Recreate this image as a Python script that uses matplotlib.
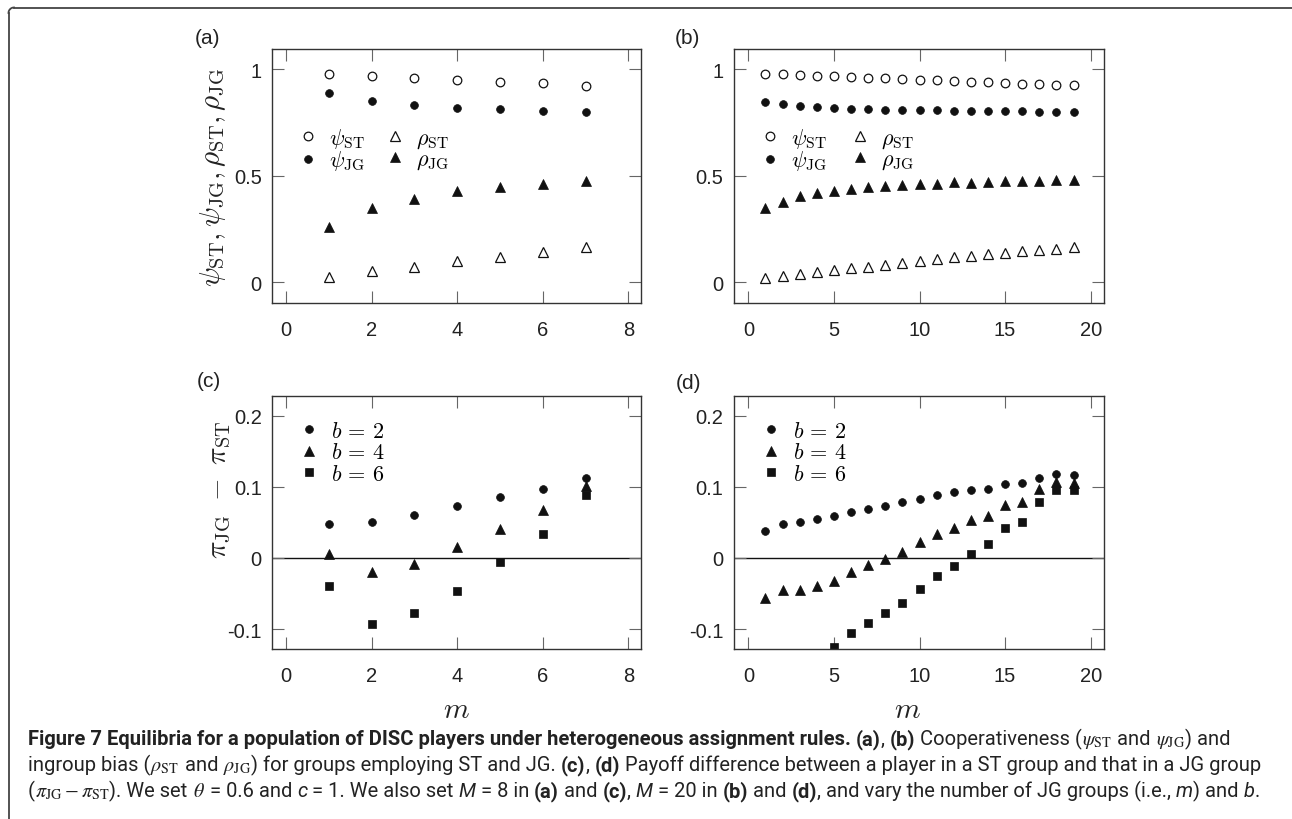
import os
import numpy as np
import matplotlib
matplotlib.use("Agg")
import matplotlib.pyplot as plt
import matplotlib.font_manager as fm
from matplotlib.font_manager import FontProperties
from matplotlib.lines import Line2D

# ---------------- data ----------------
m_a = [1, 2, 3, 4, 5, 6, 7]
m_b = list(range(1, 20))

psi_st_a = [0.977, 0.969, 0.958, 0.950, 0.941, 0.933, 0.922]
psi_jg_a = [0.888, 0.848, 0.830, 0.819, 0.811, 0.805, 0.800]
rho_st_a = [0.027, 0.052, 0.073, 0.100, 0.120, 0.144, 0.164]
rho_jg_a = [0.258, 0.348, 0.392, 0.427, 0.447, 0.462, 0.475]

psi_st_b = [0.978, 0.975, 0.972, 0.969, 0.966, 0.963, 0.959, 0.956, 0.953, 0.950,
            0.947, 0.944, 0.941, 0.938, 0.934, 0.931, 0.930, 0.927, 0.925]
psi_jg_b = [0.845, 0.834, 0.827, 0.820, 0.817, 0.814, 0.811, 0.809, 0.808, 0.808,
            0.806, 0.805, 0.803, 0.803, 0.802, 0.802, 0.800, 0.798, 0.797]
rho_st_b = [0.022, 0.028, 0.039, 0.047, 0.056, 0.066, 0.073, 0.083, 0.092, 0.100,
            0.108, 0.117, 0.123, 0.131, 0.139, 0.145, 0.152, 0.158, 0.167]
rho_jg_b = [0.347, 0.378, 0.403, 0.420, 0.428, 0.438, 0.447, 0.450, 0.458, 0.459,
            0.461, 0.469, 0.467, 0.470, 0.473, 0.473, 0.475, 0.478, 0.480]

pay_b2_c = [0.047, 0.050, 0.060, 0.073, 0.085, 0.097, 0.112]
pay_b4_c = [0.005, -0.020, -0.008, 0.015, 0.041, 0.067, 0.101]
pay_b6_c = [-0.039, -0.093, -0.078, -0.047, -0.006, 0.034, 0.088]

pay_b2_d = [0.038, 0.047, 0.050, 0.055, 0.059, 0.065, 0.069, 0.073, 0.078, 0.083,
            0.088, 0.092, 0.096, 0.097, 0.104, 0.105, 0.113, 0.118, 0.117]
pay_b4_d = [-0.056, -0.045, -0.045, -0.040, -0.033, -0.020, -0.010, -0.001, 0.009, 0.022,
            0.033, 0.042, 0.053, 0.059, 0.075, 0.078, 0.097, 0.107, 0.106]
pay_b6_d = [np.nan, np.nan, np.nan, np.nan, -0.125, -0.106, -0.091, -0.078, -0.063, -0.043,
            -0.025, -0.012, 0.006, 0.019, 0.042, 0.051, 0.078, 0.095, 0.095]

xticks_a = [0, 2, 4, 6, 8]
xticks_b = [0, 5, 10, 15, 20]
yticks_top = [0, 0.5, 1]
yticklabels_top = ["0", "0.5", "1"]
yticks_bot = [-0.1, 0, 0.1, 0.2]
yticklabels_bot = ["-0.1", "0", "0.1", "0.2"]

leg_top = [r"$\psi_{\rm ST}$", r"$\psi_{\rm JG}$", r"$\rho_{\rm ST}$", r"$\rho_{\rm JG}$"]
leg_bot = [r"$b\,=\,2$", r"$b\,=\,4$", r"$b\,=\,6$"]
panel_labels = ["(a)", "(b)", "(c)", "(d)"]

# ---------------- figure ----------------
W, H = 1292, 820
fig = plt.figure(figsize=(W / 100, H / 100), dpi=100)
fig.patch.set_facecolor("white")

SANS = ["Liberation Sans", "DejaVu Sans"]
INK = "#111111"
TXT = "#222222"


def rect(l, r, t, b):
    return [l / W, 1 - b / H, (r - l) / W, (b - t) / H]


def fx(px):
    return px / W


def fy(py):
    return 1 - py / H


def style_axes(ax, xticks, yticks, yticklabels, xlim, ylim):
    ax.set_xlim(*xlim)
    ax.set_ylim(*ylim)
    ax.set_xticks(xticks)
    ax.set_xticklabels([str(v) for v in xticks])
    ax.set_yticks(yticks)
    ax.set_yticklabels(yticklabels)
    for sp in ax.spines.values():
        sp.set_color("#333333")
        sp.set_linewidth(1.0)
    ax.tick_params(axis="both", direction="in", length=8.6, width=0.8,
                   color="#666666", top=True, right=True,
                   labelsize=14.5, labelcolor=TXT)
    ax.tick_params(axis="x", pad=12.5)
    ax.tick_params(axis="y", pad=7.6)
    for lab in ax.get_xticklabels() + ax.get_yticklabels():
        lab.set_fontfamily(SANS)


ms_c = 5.6
ms_o = 6.2
ms_t = 7.4
ms_s = 6.0

LEG_FS = 16
HL = 0.85

# ----- (a) and (b)
for (l, r), xs, pst, pjg, rst, rjg, xt, xl, mx, cs in [
        ((272.3, 640.7), m_a, psi_st_a, psi_jg_a, rho_st_a, rho_jg_a, xticks_a, (-0.32, 8.29), 308.3, 0.95),
        ((734.0, 1104.0), m_b, psi_st_b, psi_jg_b, rho_st_b, rho_jg_b, xticks_b, (-0.84, 20.78), 770.0, 1.1)]:
    ax = fig.add_axes(rect(l, r, 50, 304))
    h1, = ax.plot(xs, pst, ls="none", marker="o", ms=ms_o, mfc="white", mec=INK, mew=0.9)
    h2, = ax.plot(xs, pjg, ls="none", marker="o", ms=ms_c, mfc=INK, mec=INK, mew=0.5)
    h3, = ax.plot(xs, rst, ls="none", marker="^", ms=ms_t, mfc="white", mec=INK, mew=0.9)
    h4, = ax.plot(xs, rjg, ls="none", marker="^", ms=ms_t, mfc=INK, mec=INK, mew=0.5)
    style_axes(ax, xt, yticks_top, yticklabels_top, xl, (-0.097, 1.094))
    half = HL * LEG_FS * 100 / 72 / 2
    ax.legend([h1, h2, h3, h4], leg_top, ncol=2, frameon=False,
              loc="upper left",
              bbox_to_anchor=((mx - half - l) / (r - l), (304 - 127.0) / 254.0),
              borderpad=0, borderaxespad=0,
              handlelength=HL, handletextpad=0.5, columnspacing=cs,
              labelspacing=-0.07, prop={"math_fontfamily": "cm", "size": LEG_FS})

# ----- (c) and (d)
for (l, r), xs, p2, p4, p6, xt, xl, mx in [
        ((272.3, 640.7), m_a, pay_b2_c, pay_b4_c, pay_b6_c, xticks_a, (-0.32, 8.29), 309.0),
        ((734.0, 1104.0), m_b, pay_b2_d, pay_b4_d, pay_b6_d, xticks_b, (-0.84, 20.78), 771.0)]:
    ax = fig.add_axes(rect(l, r, 396.7, 650))
    ax.axhline(0, color=INK, lw=1.0, zorder=1)
    g1, = ax.plot(xs, p2, ls="none", marker="o", ms=ms_c, mfc=INK, mec=INK, mew=0.5)
    g2, = ax.plot(xs, p4, ls="none", marker="^", ms=ms_t, mfc=INK, mec=INK, mew=0.5)
    g3, = ax.plot(xs, p6, ls="none", marker="s", ms=ms_s, mfc=INK, mec=INK, mew=0.5)
    style_axes(ax, xt, yticks_bot, yticklabels_bot, xl, (-0.128, 0.228))
    half = HL * LEG_FS * 100 / 72 / 2
    ax.legend([g1, g2, g3], leg_bot, frameon=False, loc="upper left",
              bbox_to_anchor=((mx - half - l) / (r - l), (650 - 421.5) / 253.3),
              borderpad=0, borderaxespad=0,
              handlelength=HL, handletextpad=0.55, labelspacing=0.08,
              prop={"math_fontfamily": "cm", "size": LEG_FS})

# ----- panel labels
for lab, x, y in zip(panel_labels, [195, 675, 197, 676], [39, 39, 382, 384]):
    fig.text(fx(x), fy(y), lab, ha="left", va="center", fontsize=15,
             family=SANS, color=TXT)

# ----- axis labels
fig.text(fx(213), fy(177), r"$\psi_{\rm ST}, \psi_{\rm JG}, \rho_{\rm ST}, \rho_{\rm JG}$",
         rotation=90, ha="center", va="center", fontsize=21, math_fontfamily="cm",
         color=TXT)
fig.text(fx(219), fy(490), r"$\pi_{\rm JG}\ -\ \pi_{\rm ST}$",
         rotation=90, ha="center", va="center", fontsize=21, math_fontfamily="cm",
         color=TXT)
fig.text(fx(456.5), fy(710), r"$m$", ha="center", va="center", fontsize=21,
         math_fontfamily="cm", color=TXT)
fig.text(fx(907), fy(710), r"$m$", ha="center", va="center", fontsize=21,
         math_fontfamily="cm", color=TXT)

# ----- frame lines (top and left)
fig.add_artist(Line2D([fx(14), fx(1292)], [fy(8.5), fy(8.5)], color="#444444", lw=1.3))
fig.add_artist(Line2D([fx(8.5), fx(8.5)], [fy(14), fy(820)], color="#444444", lw=1.3))
t_arc = np.linspace(0, np.pi / 2, 20)
fig.add_artist(Line2D(fx(14 - 5.5 * np.cos(t_arc)), fy(14 - 5.5 * np.sin(t_arc)),
                      color="#444444", lw=1.3))


# ----- caption fonts
def wnum(w):
    if isinstance(w, str):
        return fm.weight_dict.get(w, 400)
    try:
        return int(w)
    except Exception:
        return 400


ENTRIES = []
for f in fm.fontManager.ttflist:
    if "[" in os.path.basename(f.fname):
        continue
    st = str(f.stretch)
    cond = ("Condensed" in f.name or "Narrow" in f.name or
            st in ("condensed", "semi-condensed", "extra-condensed", "ultra-condensed"))
    ENTRIES.append((f.name, wnum(f.weight), f.style, cond, f.fname))


def find(name, bold, italic):
    c = [e for e in ENTRIES if e[0] == name and not e[3]
         and ((e[2] != "normal") == italic)]
    if bold:
        c = [e for e in c if e[1] >= 600]
        key = lambda e: abs(e[1] - 700)
    else:
        c = [e for e in c if 350 <= e[1] < 550]
        key = lambda e: abs(e[1] - 400)
    if not c:
        return None
    return min(c, key=key)[4]


cap_files = None
for name in ["Roboto", "Liberation Sans", "Open Sans", "DejaVu Sans"]:
    rfile = find(name, False, False)
    if rfile:
        cap_files = {"n": rfile,
                     "b": find(name, True, False) or rfile,
                     "i": find(name, False, True) or rfile}
        break
if cap_files is None:
    cap_files = {"n": fm.findfont(FontProperties(family="DejaVu Sans")),
                 "b": fm.findfont(FontProperties(family="DejaVu Sans", weight="bold")),
                 "i": fm.findfont(FontProperties(family="DejaVu Sans", style="italic"))}

N, B, I, M = "n", "b", "i", "m"
cap_lines = [
    [("Figure 7 Equilibria for a population of DISC players under heterogeneous assignment rules.", B),
     (" ", N), ("(a)", B), (", ", N), ("(b)", B), (" Cooperativeness (", N),
     (r"$\psi_{\rm ST}$", M), (" and ", N), (r"$\psi_{\rm JG}$", M), (") and", N)],
    [("ingroup bias (", N), (r"$\rho_{\rm ST}$", M), (" and ", N), (r"$\rho_{\rm JG}$", M),
     (") for groups employing ST and JG. ", N), ("(c)", B), (", ", N), ("(d)", B),
     (" Payoff difference between a player in a ST group and that in a JG group", N)],
    [("(", N), (r"$\pi_{\rm JG} - \pi_{\rm ST}$", M), ("). We set ", N), (r"$\theta$", M),
     (" = 0.6 and ", N), ("c", I), (" = 1. We also set ", N), ("M", I), (" = 8 in ", N),
     ("(a)", B), (" and ", N), ("(c)", B), (", ", N), ("M", I), (" = 20 in ", N), ("(b)", B),
     (" and ", N), ("(d)", B), (", and vary the number of JG groups (i.e., ", N), ("m", I),
     (") and ", N), ("b", I), (".", N)],
]
cap_baselines = [745, 771, 797]
cap_x0 = 28
cap_targets = [1262 - 28, 1135 - 28, 1283 - 28]

renderer = fig.canvas.get_renderer()


def run_kw(kind, size):
    fname = cap_files["n" if kind == M else kind]
    kw = dict(fontproperties=FontProperties(fname=fname, size=size), color=TXT)
    if kind == M:
        kw["math_fontfamily"] = "stix"
    return kw


def width_of(s, kind, size):
    kw = run_kw(kind, size)
    if kind == M:
        t = fig.text(0, 0, s, **kw)
        w = t.get_window_extent(renderer).width
        t.remove()
        return w
    t1 = fig.text(0, 0, "|" + s + "|", **kw)
    t2 = fig.text(0, 0, "||", **kw)
    w = t1.get_window_extent(renderer).width - t2.get_window_extent(renderer).width
    t1.remove()
    t2.remove()
    return w


base = 12.0
fits = []
for line, target in zip(cap_lines, cap_targets):
    wsum = sum(width_of(s, k, base) for s, k in line)
    fits.append(base * target / wsum)
cap_size = min(fits[0], fits[2], 14.5)

for line, yb in zip(cap_lines, cap_baselines):
    x = cap_x0
    for s, k in line:
        w = width_of(s, k, cap_size)
        fig.text(fx(x), fy(yb), s, ha="left", va="baseline", **run_kw(k, cap_size))
        x += w

fig.savefig("out.png", dpi=100)
